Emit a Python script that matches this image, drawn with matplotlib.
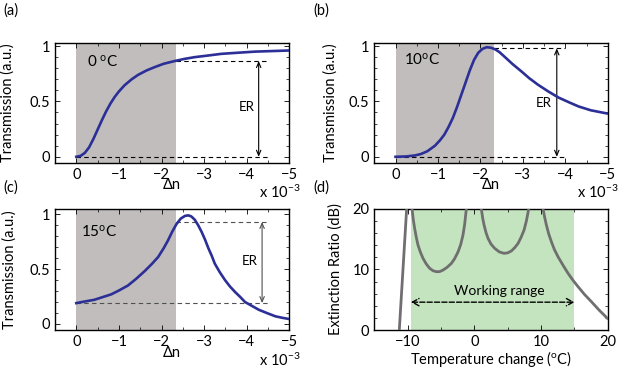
import matplotlib
matplotlib.use("Agg")
import matplotlib.pyplot as plt
from matplotlib.ticker import MultipleLocator

# ---- data (delta n in units of 1e-3) ----
dn_a = [0, -0.1, -0.2, -0.3, -0.4, -0.5, -0.6, -0.7, -0.8, -0.9, -1.0, -1.13, -1.3, -1.45,
        -1.65, -1.84, -2.05, -2.31, -2.55, -2.78, -3.1, -3.41, -3.8, -4.2, -4.6, -5.0]
T_a = [0.0, 0.008, 0.035, 0.085, 0.16, 0.245, 0.33, 0.41, 0.48, 0.54, 0.59, 0.645, 0.70, 0.74,
       0.78, 0.81, 0.84, 0.865, 0.885, 0.90, 0.915, 0.93, 0.94, 0.95, 0.955, 0.96]

dn_b = [0, -0.25, -0.46, -0.6, -0.75, -0.93, -1.05, -1.15, -1.25, -1.35, -1.45, -1.55, -1.65,
        -1.75, -1.85, -1.95, -2.05, -2.15, -2.25, -2.35, -2.45, -2.58, -2.75, -2.97, -3.15,
        -3.36, -3.6, -3.84, -4.1, -4.31, -4.6, -5.0]
T_b = [0.0, 0.003, 0.012, 0.025, 0.05, 0.10, 0.15, 0.20, 0.27, 0.35, 0.45, 0.56, 0.67,
       0.78, 0.875, 0.94, 0.975, 0.99, 0.985, 0.97, 0.945, 0.90, 0.84, 0.77, 0.71,
       0.65, 0.59, 0.535, 0.49, 0.455, 0.42, 0.39]

dn_c = [0, -0.2, -0.42, -0.62, -0.82, -1.0, -1.21, -1.4, -1.6, -1.78, -1.92, -2.05, -2.15,
        -2.25, -2.35, -2.45, -2.55, -2.63, -2.7, -2.78, -2.86, -2.94, -3.02, -3.10, -3.18,
        -3.25, -3.37, -3.49, -3.61, -3.73, -3.85, -3.96, -4.12, -4.28, -4.47, -4.67, -4.85, -5.0]
T_c = [0.19, 0.205, 0.22, 0.245, 0.27, 0.305, 0.35, 0.41, 0.48, 0.55, 0.61, 0.69, 0.76,
       0.84, 0.91, 0.96, 0.985, 0.99, 0.98, 0.95, 0.90, 0.84, 0.77, 0.69, 0.62,
       0.55, 0.47, 0.40, 0.34, 0.29, 0.245, 0.20, 0.165, 0.13, 0.10, 0.07, 0.055, 0.045]

# extinction ratio vs temperature, four branches
temp_1 = [-11.25, -10.7, -10.15]
er_1 = [0, 10, 20]
temp_2 = [-9.34, -9.15, -8.95, -8.7, -8.45, -8.1, -7.7, -7.2, -6.7, -6.2, -5.7, -5.2, -4.7,
          -4.1, -3.45, -2.95, -2.45, -2.05, -1.7, -1.45, -1.2]
er_2 = [20, 18.2, 16.8, 15.3, 14.05, 12.9, 11.85, 10.9, 10.2, 9.8, 9.64, 9.65, 9.9,
        10.35, 11.0, 11.8, 12.9, 14.1, 15.7, 17.5, 20]
temp_3 = [1.05, 1.25, 1.45, 1.75, 2.05, 2.5, 3.05, 3.75, 4.45, 5.0, 5.55, 6.05, 6.55, 7.0,
          7.45, 7.8, 8.15]
er_3 = [20, 18.5, 17.4, 16.1, 15.15, 14.2, 13.5, 12.9, 12.67, 12.75, 13.06, 13.6, 14.3, 15.3,
        16.5, 18.0, 20]
temp_4 = [10.3, 10.55, 10.8, 11.15, 11.55, 12.0, 12.55, 13.3, 14.05, 14.8, 15.55, 16.5,
          17.55, 18.7, 19.95]
er_4 = [20, 18.6, 17.36, 15.9, 14.6, 13.3, 12.1, 10.7, 9.37, 8.2, 7.16, 5.9,
        4.68, 3.3, 1.93]

temp_labels = [r"0 $^{\mathrm{o}}$C", r"10$^{\mathrm{o}}$C", r"15$^{\mathrm{o}}$C"]

# ---- style ----
plt.rcParams["font.family"] = ["Lato", "DejaVu Sans"]
plt.rcParams["mathtext.fontset"] = "custom"
plt.rcParams["mathtext.rm"] = "Lato"
plt.rcParams["mathtext.it"] = "Lato:italic"
plt.rcParams["font.size"] = 10.5
plt.rcParams["axes.linewidth"] = 1.0
for ax_ in ("x", "y"):
    plt.rcParams[ax_ + "tick.direction"] = "in"
    plt.rcParams[ax_ + "tick.major.size"] = 3.5
    plt.rcParams[ax_ + "tick.minor.size"] = 2
    plt.rcParams[ax_ + "tick.major.width"] = 0.6
    plt.rcParams[ax_ + "tick.minor.width"] = 0.5
plt.rcParams["xtick.top"] = True
plt.rcParams["ytick.right"] = True
plt.rcParams["xtick.minor.visible"] = True
plt.rcParams["ytick.minor.visible"] = True

blue = "#2b2f96"
shade = "#c1bdbd"

fig = plt.figure(figsize=(6.2, 3.75), dpi=100)
ax_a = fig.add_axes([0.0887, 0.566, 0.378, 0.320])
ax_b = fig.add_axes([0.6037, 0.566, 0.3765, 0.320])
ax_c = fig.add_axes([0.0887, 0.12, 0.378, 0.3227])
ax_d = fig.add_axes([0.6037, 0.12, 0.3765, 0.3227])


def transmission_panel(ax, dn, T, label, label_xy, lo, hi, x_end, arrow_x, er_xy,
                       ylim, dash_col, ylab_x):
    ax.axvspan(0, -2.33, color=shade, lw=0, zorder=0)
    ax.plot([0, x_end], [lo, lo], "--", color=dash_col, lw=0.8, dashes=(4, 3))
    ax.plot([-2.33, x_end], [hi, hi], "--", color=dash_col, lw=0.8, dashes=(4, 3))
    ax.annotate("", xy=(arrow_x, hi), xytext=(arrow_x, lo),
                arrowprops=dict(arrowstyle="<->,head_length=0.35,head_width=0.15",
                                lw=0.8, color=dash_col, shrinkA=0, shrinkB=0))
    ax.text(er_xy[0], er_xy[1], "ER", ha="center", va="center", fontsize=9.5)
    ax.plot(dn, T, color=blue, lw=1.9, zorder=3)
    ax.text(label_xy[0], label_xy[1], label, ha="left", va="center", fontsize=11)
    ax.set_xlim(0.5, -5)
    ax.set_ylim(*ylim)
    ax.set_xticks([0, -1, -2, -3, -4, -5])
    ax.set_yticks([0, 0.5, 1])
    ax.set_yticklabels(["0", "0.5", "1"])
    ax.xaxis.set_minor_locator(MultipleLocator(0.5))
    ax.yaxis.set_minor_locator(MultipleLocator(0.1))
    ax.set_xlabel("Δn")
    ax.xaxis.set_label_coords(0.5, -0.13)
    ax.set_ylabel("Transmission (a.u.)")
    ax.yaxis.set_label_coords(ylab_x, 0.5)
    ax.text(1.047, -0.25, r"x 10$^{-3}$", transform=ax.transAxes, ha="right", va="center")


transmission_panel(ax_a, dn_a, T_a, temp_labels[0], (-0.24, 0.856), 0.0, 0.865, -4.5,
                   -4.28, (-4.0, 0.45), (-0.054, 1.03), "k", -0.171)
transmission_panel(ax_b, dn_b, T_b, temp_labels[1], (-0.21, 0.874), 0.0, 0.979, -4.0,
                   -3.8, (-3.5, 0.49), (-0.054, 1.03), "k", -0.155)
transmission_panel(ax_c, dn_c, T_c, temp_labels[2], (-0.11, 0.84), 0.19, 0.93, -4.5,
                   -4.36, (-4.08, 0.57), (-0.055, 1.048), "#505050", -0.163)

# ---- panel (d) ----
ax_d.axvspan(-9.5, 15, color="#c4e3bf", lw=0, zorder=0)
for tx, ey in [(temp_1, er_1), (temp_2, er_2), (temp_3, er_3), (temp_4, er_4)]:
    ax_d.plot(tx, ey, color="#6f6f6f", lw=2.0, zorder=3)
ax_d.annotate("", xy=(15, 4.6), xytext=(-9.5, 4.6),
              arrowprops=dict(arrowstyle="<->,head_length=0.45,head_width=0.25",
                              lw=1.0, color="k", ls="--", shrinkA=0, shrinkB=0))
ax_d.text(3.7, 6.5, "Working range", ha="center", va="center", fontsize=10)
ax_d.set_xlim(-15, 20)
ax_d.set_ylim(0, 20)
ax_d.set_xticks([-10, 0, 10, 20])
ax_d.set_yticks([0, 10, 20])
ax_d.xaxis.set_minor_locator(MultipleLocator(5))
ax_d.yaxis.set_minor_locator(MultipleLocator(2))
ax_d.set_xlabel(r"Temperature change ($^{\mathrm{o}}$C)")
ax_d.xaxis.set_label_coords(0.5, -0.155)
ax_d.set_ylabel("Extinction Ratio (dB)")
ax_d.yaxis.set_label_coords(-0.137, 0.5)

# panel letters
fig.text(0.005, 0.992, "(a)", ha="left", va="top")
fig.text(0.505, 0.992, "(b)", ha="left", va="top")
fig.text(0.005, 0.52, "(c)", ha="left", va="top")
fig.text(0.505, 0.52, "(d)", ha="left", va="top")

fig.savefig("out.png", dpi=100)
